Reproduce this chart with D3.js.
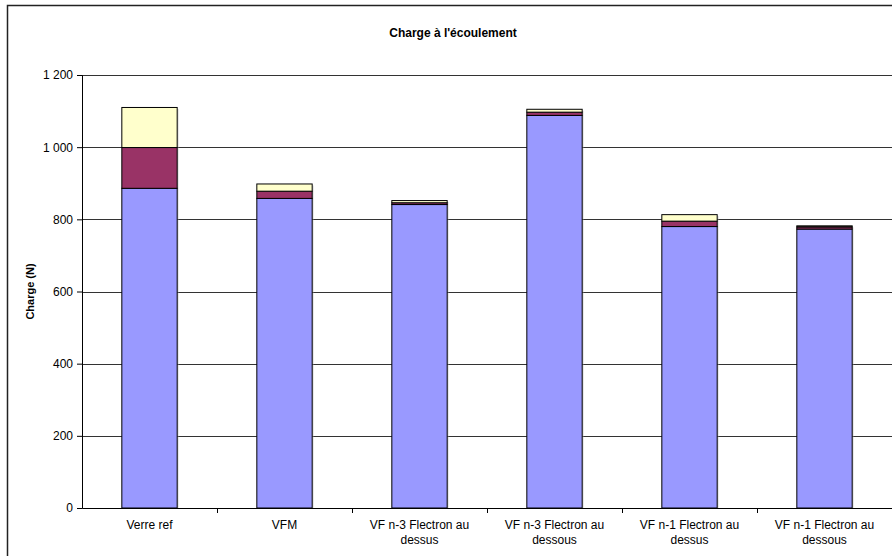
<!DOCTYPE html>
<html>
<head>
<meta charset="utf-8">
<script src="https://cdn.jsdelivr.net/npm/d3@7"></script>
<style>
  body { margin: 0; background: #fff; }
  text { font-family: "Liberation Sans", Arial, sans-serif; }
</style>
</head>
<body>
<div id="chart"></div>
<script>
var categories = ["Verre ref", "VFM", "VF n-3 Flectron au dessus", "VF n-3 Flectron au dessous", "VF n-1 Flectron au dessus", "VF n-1 Flectron au dessous"];
var serie1 = [886, 858, 841, 1088, 780, 773];
var serie2 = [113, 20, 5, 9, 15, 6];
var serie3 = [111, 20, 6, 8, 18, 3];
var yTicks = [0, 200, 400, 600, 800, 1000, 1200];
var colors = ["#9999FF", "#993366", "#FFFFCC"];

var W = 892, H = 556;
var margin = {top: 75, right: 0, bottom: 48, left: 82}
  , width = W - margin.left - margin.right
  , height = H - margin.top - margin.bottom;

var svg = d3.select("#chart").append("svg")
  .attr("width", W).attr("height", H);

// chart frame
svg.append("rect")
  .attr("x", 7.5).attr("y", 5.5)
  .attr("width", W).attr("height", H)
  .attr("fill", "none").attr("stroke", "#222").attr("stroke-width", 1.5);

var x = d3.scaleBand().domain(categories).range([0, width]);
var y = d3.scaleLinear().domain([0, 1200]).range([height, 0]);

var main = svg.append("g")
  .attr("transform", "translate(" + margin.left + "," + margin.top + ")");

// grid lines
main.append("g").selectAll("line")
  .data(yTicks.filter(function(d){ return d > 0; }))
  .join("line")
  .attr("x1", 0).attr("x2", width)
  .attr("y1", function(d){ return Math.round(y(d)) + 0.5; })
  .attr("y2", function(d){ return Math.round(y(d)) + 0.5; })
  .attr("stroke", "#333").attr("stroke-width", 1);

// stacked data
var rows = categories.map(function(c, i){
  return {cat: c, s1: serie1[i], s2: serie2[i], s3: serie3[i]};
});
var stack = d3.stack().keys(["s1", "s2", "s3"])(rows);
var barW = x.bandwidth() * 0.41;

// light shadow
main.append("g").selectAll("rect")
  .data(rows).join("rect")
  .attr("x", function(d){ return x(d.cat) + (x.bandwidth() - barW) / 2 + 1.5; })
  .attr("y", function(d){ return y(d.s1 + d.s2 + d.s3) + 1.5; })
  .attr("width", barW)
  .attr("height", function(d){ return height - y(d.s1 + d.s2 + d.s3) - 1.5; })
  .attr("fill", "#aaa").attr("opacity", 0.4);

stack.forEach(function(layer, k){
  main.append("g").selectAll("rect")
    .data(layer).join("rect")
    .attr("x", function(d){ return x(d.data.cat) + (x.bandwidth() - barW) / 2; })
    .attr("y", function(d){ return y(d[1]); })
    .attr("width", barW)
    .attr("height", function(d){ return y(d[0]) - y(d[1]); })
    .attr("fill", colors[k])
    .attr("stroke", "#000").attr("stroke-width", 1);
});

// y axis
var yAxis = main.append("g")
  .call(d3.axisLeft(y).tickValues(yTicks).tickSize(5).tickPadding(4)
    .tickFormat(function(d){ return d3.format(",")(d).replace(",", " "); }));
yAxis.select(".domain").attr("stroke", "#000");
yAxis.selectAll("text").style("font-size", "12px").attr("fill", "#000");

// x axis
var xAxis = main.append("g")
  .attr("transform", "translate(0," + height + ")")
  .call(d3.axisBottom(x).tickSize(0).tickFormat(""));
xAxis.select(".domain").attr("stroke", "#000");
main.append("g").selectAll("line")
  .data(categories.slice(1)).join("line")
  .attr("x1", function(d){ return Math.round(x(d)) + 0.5; })
  .attr("x2", function(d){ return Math.round(x(d)) + 0.5; })
  .attr("y1", height).attr("y2", height + 5)
  .attr("stroke", "#000");

// category labels, wrapped in two lines
var labels = main.append("g").selectAll("text")
  .data(categories).join("text")
  .attr("text-anchor", "middle")
  .style("font-size", "12px")
  .attr("transform", function(d){ return "translate(" + (x(d) + x.bandwidth() / 2) + "," + (height + 21) + ")"; });
labels.each(function(d){
  var words = d.split(" ");
  var lines = words.length > 3 ? [words.slice(0, 4).join(" "), words.slice(4).join(" ")] : [d];
  var t = d3.select(this);
  lines.forEach(function(l, i){
    t.append("tspan").attr("x", 0).attr("dy", i === 0 ? 0 : 14.5).text(l);
  });
});

// title
svg.append("text")
  .attr("x", 453).attr("y", 37)
  .attr("text-anchor", "middle")
  .style("font-size", "12px").style("font-weight", "bold")
  .text("Charge à l'écoulement");

// y axis title
svg.append("text")
  .attr("text-anchor", "middle")
  .attr("transform", "translate(34," + (margin.top + height / 2) + ")rotate(-90)")
  .style("font-size", "11px").style("font-weight", "bold")
  .text("Charge (N)");
</script>
</body>
</html>
